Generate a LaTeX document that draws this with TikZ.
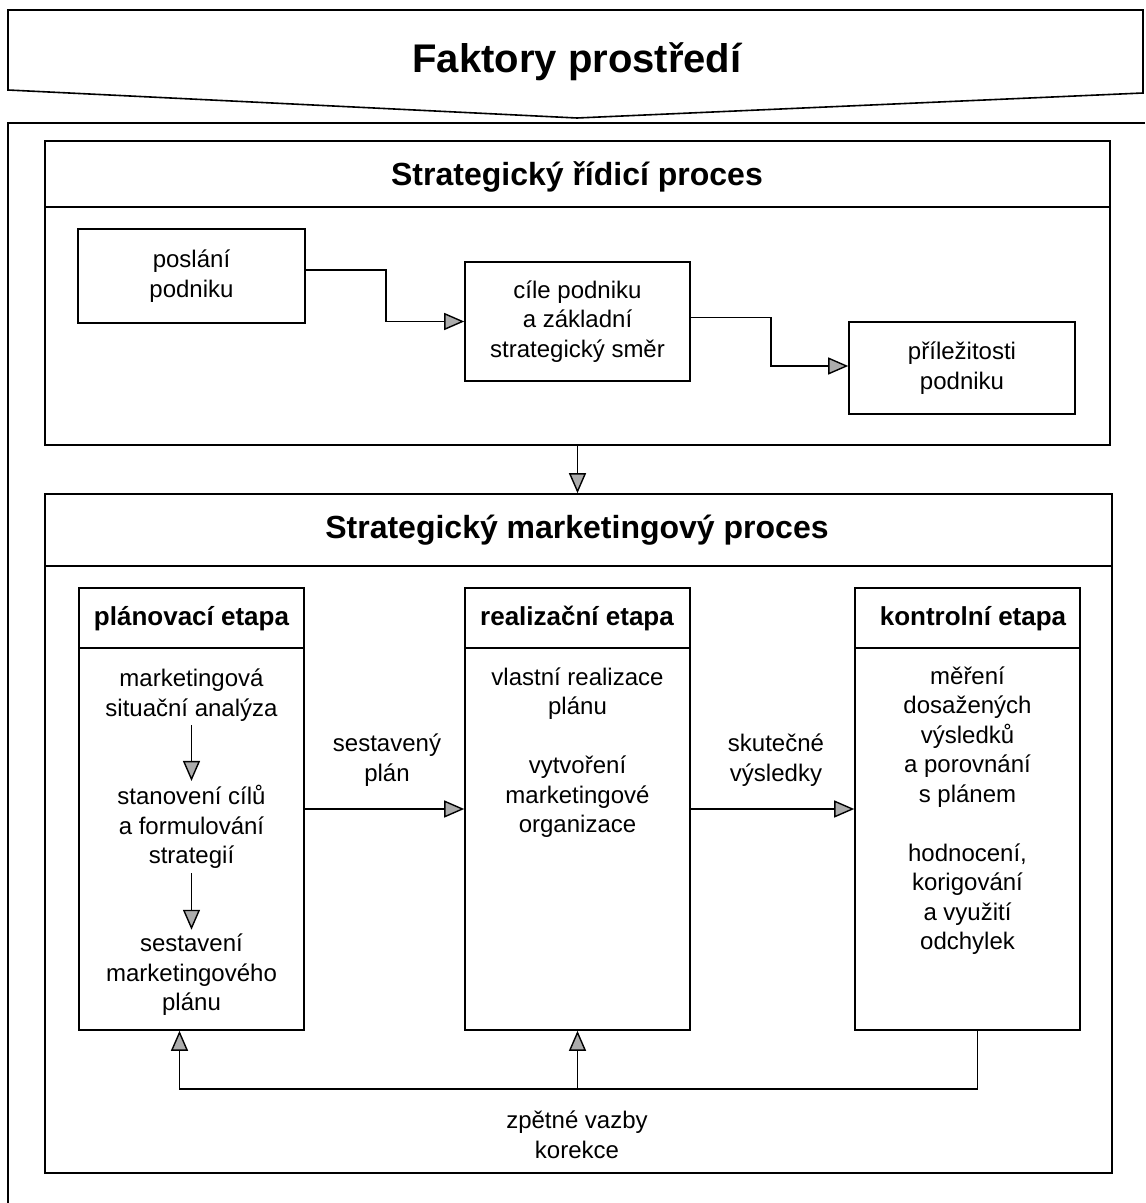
\documentclass[tikz,border=0pt]{standalone}
\usepackage{fontspec}
\setmainfont{Liberation Sans}
\usepackage{tikz}
\usetikzlibrary{positioning,arrows.meta,calc}

\tikzset{
  frame/.style={draw=black, line width=0.8pt},
  bodytext/.style={align=center, inner sep=2pt, font=\fontsize{12}{14.75}\selectfont},
  textbox/.style={frame, bodytext},
  stagebox/.style={frame, minimum width=112.5pt, minimum height=221pt},
  stagehead/.style={font=\bfseries\fontsize{13}{15}\selectfont},
  bighead/.style={font=\bfseries\fontsize{16}{19}\selectfont},
  arr/.style={line width=0.7pt, -{Triangle[length=10pt, width=8.5pt, fill=gray!65]}},
}

\begin{document}
\begin{tikzpicture}[x=0.5pt, y=-0.5pt]
        \useasboundingbox (0,0) rectangle (1145,1203);

        % banner
        \draw[frame] (8,10) -- (1143,10) -- (1143,93) -- (577,118) -- (8,90) -- cycle;
        \node[font=\bfseries\fontsize{20}{24}\selectfont] (faktory) at (577,62) {Faktory prostředí};
        \draw[frame] (1145,123) -- (8,123) -- (8,1203);

        % strategicky ridici proces
        \node[frame, minimum width=532.5pt, minimum height=152pt] (ridici) at (577.5,293) {};
        \draw[frame] ($(ridici.north west)+(0,67)$) -- ($(ridici.north east)+(0,67)$);
        \node[bighead] (ridicihead) at (577,177) {Strategický řídicí proces};

        \node[textbox, minimum width=113.5pt, minimum height=47pt] (poslani) at (191.5,276) {poslání\\podniku};
        \node[textbox, minimum width=112.5pt, minimum height=59.5pt] (cile) at (577.5,321.5) {cíle podniku\\a základní\\strategický směr};
        \node[textbox, minimum width=113pt, minimum height=46pt] (prilezitosti) at (962,368) {příležitosti\\podniku};

        \draw[arr] ([yshift=3pt]poslani.east) -- ++(80,0) |- (cile.west);
        \draw[arr] ([yshift=2pt]cile.east) -- ++(80,0) |- ([yshift=1pt]prilezitosti.west);

        % strategicky marketingovy proces
        \node[frame, minimum width=533.5pt, minimum height=339.5pt] (marketing) at (578.5,833.5) {};
        \draw[frame] ($(marketing.north west)+(0,73)$) -- ($(marketing.north east)+(0,73)$);
        \node[bighead] (markhead) at (577,530) {Strategický marketingový proces};

        \draw[arr] (ridici.south) -- (ridici.south |- marketing.north);

        \node[stagebox] (planovaci) at (191.5,809) {};
        \node[stagebox] (realizacni) at (577.5,809) {};
        \node[stagebox] (kontrolni) at (967.5,809) {};
        \foreach \n in {planovaci,realizacni,kontrolni}
          \draw[frame] ($(\n.north west)+(0,61)$) -- ($(\n.north east)+(0,61)$);

        \node[stagehead] (planhead) at (191.5,618.5) {plánovací etapa};
        \node[stagehead] (realhead) at (577,618.5) {realizační etapa};
        \node[stagehead] (konthead) at (973,618.5) {kontrolní etapa};

        \node[bodytext] (analyza) at (191.5,695) {marketingová\\situační analýza};
        \node[bodytext] (stanoveni) at (191.5,827) {stanovení cílů\\a formulování\\strategií};
        \node[bodytext] (sestaveni) at (191.5,975) {sestavení\\marketingového\\plánu};
        \draw[arr] (analyza) -- (stanoveni);
        \draw[arr] (stanoveni) -- (sestaveni);

        \node[bodytext] (realizace) at (577.5,752.5) {vlastní realizace\\plánu\\[14.75pt]vytvoření\\marketingové\\organizace};
        \node[bodytext] (mereni) at (967.5,810.5) {měření\\dosažených\\výsledků\\a porovnání\\s plánem\\[14.75pt]hodnocení,\\korigování\\a využití\\odchylek};

        \draw[arr] (planovaci) -- (realizacni);
        \draw[arr] (realizacni) -- (kontrolni);
        \node[bodytext] (sestaveny) at (387,760) {sestavený\\plán};
        \node[bodytext] (skutecne) at (776,760) {skutečné\\výsledky};

        % zpetne vazby
        \coordinate (zpet) at ($(realizacni.south)+(0,58)$);
        \draw[arr] ([xshift=5pt]kontrolni.south) |- (zpet) -| ([xshift=-6pt]planovaci.south);
        \draw[arr] (zpet) -- (realizacni.south);
        \node[bodytext] (zpetne) at (577,1135) {zpětné vazby\\korekce};
      \end{tikzpicture}
\end{document}
